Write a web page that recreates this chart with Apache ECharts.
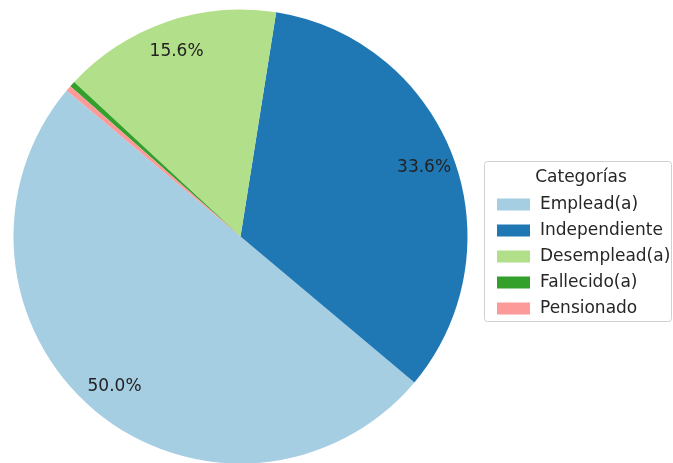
<!DOCTYPE html>
<html>
<head>
<meta charset="utf-8">
<script src="https://cdn.jsdelivr.net/npm/echarts@6/dist/echarts.min.js"></script>
<style>
html,body{margin:0;padding:0;background:#fff;}
#chart{width:673px;height:463px;}
</style>
</head>
<body>
<div id="chart"></div>
<script>
const categories = ['Emplead(a)', 'Independiente', 'Desemplead(a)', 'Fallecido(a)', 'Pensionado'];
const values = [50.0, 33.6, 15.6, 0.4, 0.4];
const colors = ['#a6cee3', '#1f78b4', '#b2df8a', '#33a02c', '#fb9a99'];
const legendTitle = 'Categorías';

const FONT = 'DejaVu Sans';
const R = 227;
const CENTER = [240.5, 236.5];

const data = categories.map((c, i) => ({ name: c, value: values[i], itemStyle: { color: colors[i] } }));

const chart = echarts.init(document.getElementById('chart'), null, { renderer: 'canvas' });
chart.setOption({
  animation: false,
  backgroundColor: '#fff',
  legend: {
    orient: 'vertical',
    left: 492,
    top: 191,
    itemWidth: 33,
    itemHeight: 12,
    itemGap: 9,
    icon: 'rect',
    data: categories,
    selectedMode: false,
    textStyle: { fontFamily: FONT, fontSize: 17, color: '#262626', padding: [0, 0, 0, 5] }
  },
  graphic: [
    {
      type: 'rect',
      shape: { x: 484.5, y: 161.5, width: 187, height: 160, r: 3 },
      style: { fill: 'rgba(255,255,255,0.8)', stroke: '#d0d0d0', lineWidth: 1 },
      z: -1
    },
    {
      type: 'text',
      x: 581,
      y: 178,
      style: { text: legendTitle, font: '17px "DejaVu Sans"', fill: '#262626', textAlign: 'center', textVerticalAlign: 'middle' }
    }
  ],
  series: [
    {
      type: 'pie',
      center: CENTER,
      radius: [0, R],
      startAngle: 140,
      clockwise: false,
      silent: true,
      label: { show: false },
      labelLine: { show: false },
      itemStyle: { borderWidth: 0 },
      emphasis: { disabled: true },
      data: data
    },
    {
      type: 'pie',
      center: CENTER,
      radius: [R * 0.7, R],
      startAngle: 140,
      clockwise: false,
      silent: true,
      avoidLabelOverlap: false,
      itemStyle: { color: 'rgba(0,0,0,0)', borderWidth: 0 },
      emphasis: { disabled: true },
      label: {
        show: true,
        position: 'inside',
        fontFamily: FONT,
        fontSize: 17,
        color: '#222',
        formatter: p => p.value > 1 ? p.value.toFixed(1) + '%' : ''
      },
      labelLine: { show: false },
      data: categories.map((c, i) => ({ name: c, value: values[i] }))
    }
  ]
});
</script>
</body>
</html>
